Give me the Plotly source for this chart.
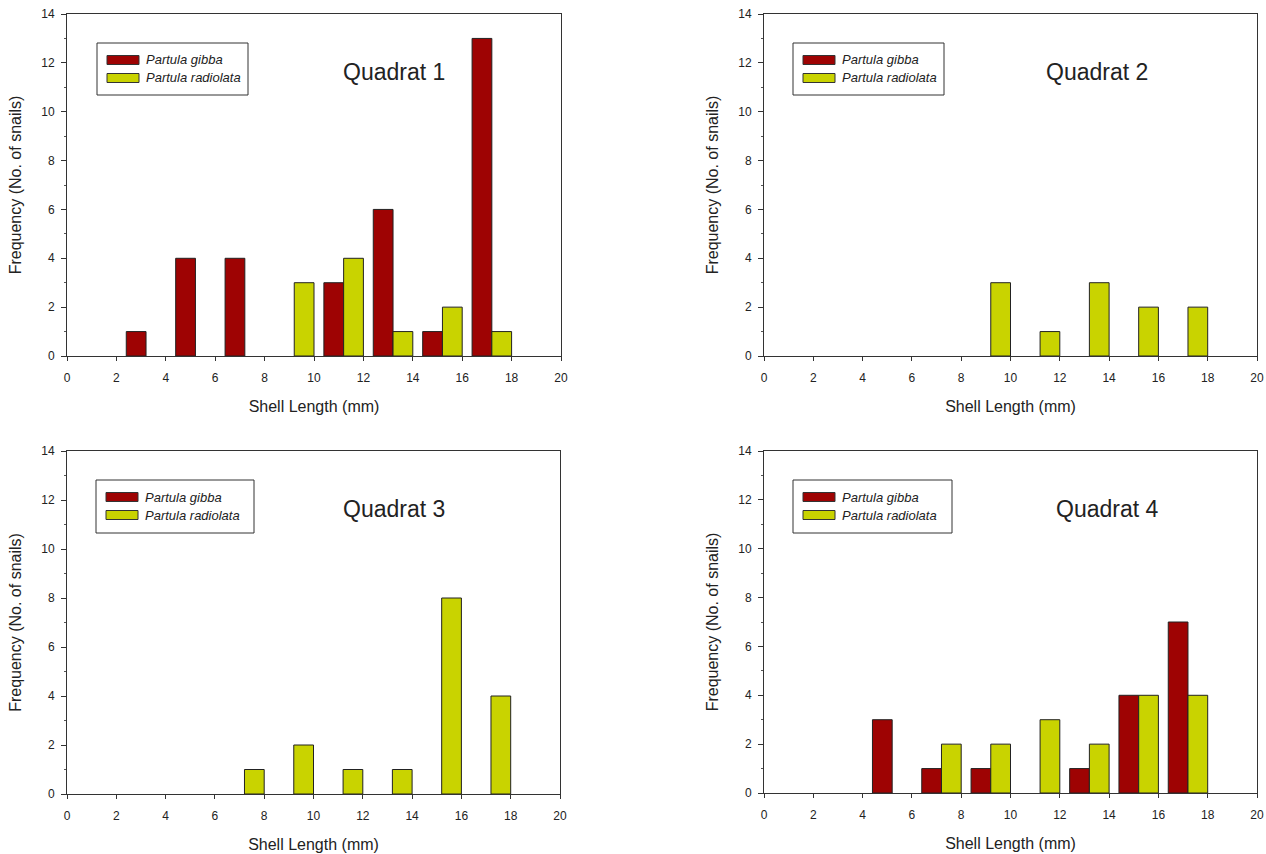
import plotly.graph_objects as go

# Bin left edges (mm), bins of width 2
bin_starts = [2, 4, 6, 8, 10, 12, 14, 16]

# Frequencies per bin for each quadrat
q1_gibba = [1, 4, 4, 0, 3, 6, 1, 13]
q1_radiolata = [0, 0, 0, 3, 4, 1, 2, 1]
q2_gibba = [0, 0, 0, 0, 0, 0, 0, 0]
q2_radiolata = [0, 0, 0, 3, 1, 3, 2, 2]
q3_gibba = [0, 0, 0, 0, 0, 0, 0, 0]
q3_radiolata = [0, 0, 1, 2, 1, 1, 8, 4]
q4_gibba = [0, 3, 1, 1, 0, 1, 4, 7]
q4_radiolata = [0, 0, 2, 2, 3, 2, 4, 4]

quadrat_titles = ["Quadrat 1", "Quadrat 2", "Quadrat 3", "Quadrat 4"]
series_names = ["Partula gibba", "Partula radiolata"]
x_ticks = [0, 2, 4, 6, 8, 10, 12, 14, 16, 18, 20]
y_ticks = [0, 2, 4, 6, 8, 10, 12, 14]

GIBBA_COLOR = "#9E0303"
RADIO_COLOR = "#C9D300"
COLORS = [GIBBA_COLOR, RADIO_COLOR]
FONT = "Liberation Sans, Arial, sans-serif"

W, H = 1266, 854
# pixel frames of each panel: (left, right, top, bottom)
frames = [
    (67, 561, 14, 356),
    (764, 1257, 14, 356),
    (67, 560, 451, 794),
    (764, 1257, 451, 793),
]
# legend boxes: (left, top, right, bottom) in pixels
legend_boxes = [(97, 43, 248, 95), (793, 43, 944, 95), (96, 480, 254, 533), (793, 480, 952, 533)]
title_pos = [(394, 72), (1097, 72), (394, 509), (1107, 509)]

data = [
    (q1_gibba, q1_radiolata),
    (q2_gibba, q2_radiolata),
    (q3_gibba, q3_radiolata),
    (q4_gibba, q4_radiolata),
]


def nz(vals):
    return [v if v != 0 else None for v in vals]


def px(x):
    return x / W


def py(y):
    return 1 - y / H


fig = go.Figure()
layout = dict(
    width=W, height=H,
    margin=dict(l=0, r=0, t=0, b=0),
    paper_bgcolor="white",
    plot_bgcolor="white",
    barmode="overlay",
    showlegend=False,
    font=dict(family=FONT, color="#333333"),
)

annotations = []
shapes = []
for i, ((g, r), (l, rt, tp, bt)) in enumerate(zip(data, frames)):
    n = i + 1
    xa = "x" if n == 1 else f"x{n}"
    ya = "y" if n == 1 else f"y{n}"
    fig.add_trace(go.Bar(
        x=bin_starts, y=nz(g), name=series_names[0], offset=0.4, width=0.8,
        marker=dict(color=GIBBA_COLOR, line=dict(color="#222222", width=1)),
        xaxis=xa, yaxis=ya,
    ))
    fig.add_trace(go.Bar(
        x=bin_starts, y=nz(r), name=series_names[1], offset=1.2, width=0.8,
        marker=dict(color=RADIO_COLOR, line=dict(color="#222222", width=1)),
        xaxis=xa, yaxis=ya,
    ))
    xkey = "xaxis" if n == 1 else f"xaxis{n}"
    ykey = "yaxis" if n == 1 else f"yaxis{n}"
    layout[xkey] = dict(
        domain=[px(l), px(rt)], range=[0, 20], anchor=ya, automargin=False,
        tickvals=x_ticks, ticks="outside", ticklen=4, tickcolor="#333",
        ticklabelstandoff=7,
        showline=True, linecolor="#333", linewidth=1, mirror=True,
        showgrid=False, zeroline=False,
        tickfont=dict(size=12, color="#222", family=FONT),
        title=dict(text="Shell Length (mm)", font=dict(size=16, color="#222", family=FONT), standoff=16),
    )
    layout[ykey] = dict(
        domain=[py(bt), py(tp)], range=[0, 14], anchor=xa, automargin=False,
        tickvals=y_ticks, ticks="outside", ticklen=5, tickcolor="#333",
        ticklabelstandoff=4,
        minor=dict(dtick=1, ticks="outside", ticklen=2, tickcolor="#555", showgrid=False),
        showline=True, linecolor="#333", linewidth=1, mirror=True,
        showgrid=False, zeroline=False,
        tickfont=dict(size=12, color="#222", family=FONT),
        title=dict(text="Frequency (No. of snails)", font=dict(size=16, color="#222", family=FONT), standoff=15),
    )
    # legend box
    bl, btp, br, bb = legend_boxes[i]
    shapes.append(dict(type="rect", xref="paper", yref="paper",
                       x0=px(bl), x1=px(br), y0=py(bb), y1=py(btp),
                       line=dict(color="#333", width=1), fillcolor="white"))
    for k, name in enumerate(series_names):
        cy = btp + 17 + 18 * k
        shapes.append(dict(type="rect", xref="paper", yref="paper",
                           x0=px(bl + 10), x1=px(bl + 42), y0=py(cy + 4.5), y1=py(cy - 4.5),
                           line=dict(color="#333", width=1), fillcolor=COLORS[k]))
        annotations.append(dict(
            text=f"<i>{name}</i>", x=px(bl + 47), y=py(cy), xref="paper", yref="paper",
            xanchor="left", yanchor="middle", showarrow=False,
            font=dict(size=13, color="#222", family=FONT),
        ))
    tx, ty = title_pos[i]
    annotations.append(dict(
        text=quadrat_titles[i], x=px(tx), y=py(ty), xref="paper", yref="paper",
        xanchor="center", yanchor="middle", showarrow=False,
        font=dict(size=23, color="#222", family=FONT),
    ))

layout["annotations"] = annotations
layout["shapes"] = shapes
fig.update_layout(**layout)
fig.write_html("out.html")
